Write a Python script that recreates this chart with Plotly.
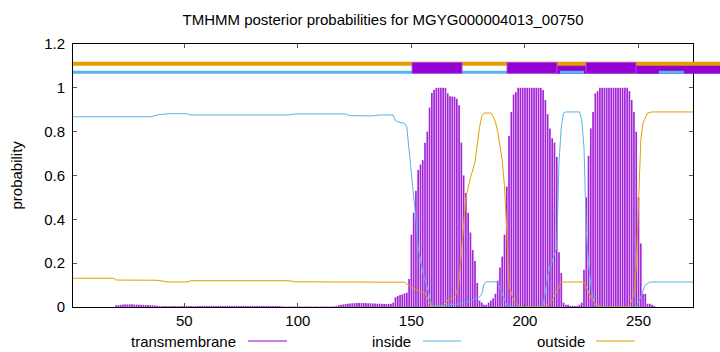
import plotly.graph_objects as go

# ---------------- data ----------------
L = 274
residues = list(range(1, L + 1))

tm_prob = (
    [0.0] * 19                                                       # 1-19
    + [0.008, 0.009, 0.010, 0.011, 0.012, 0.012, 0.012, 0.012, 0.011, 0.011,
       0.010, 0.010, 0.010, 0.009, 0.009, 0.008, 0.008, 0.007, 0.006]  # 20-38
    + [0.004] * 18                                                   # 39-56
    + [0.005] * 36                                                   # 57-92
    + [0.002] * 24                                                   # 93-116
    + [0.005, 0.008, 0.010, 0.012]                                   # 117-120
    + [0.014, 0.015, 0.016, 0.017, 0.017, 0.018, 0.018, 0.018, 0.018, 0.018,
       0.017, 0.017, 0.016, 0.016, 0.015, 0.015, 0.015, 0.014, 0.014, 0.014,
       0.015]                                                        # 121-141
    + [0.02, 0.045, 0.05, 0.055, 0.058, 0.062, 0.065, 0.128]         # 142-149
    + [0.33, 0.43, 0.53, 0.625, 0.65, 0.67, 0.75, 0.80, 0.91, 0.977, 0.99]  # 150-160
    + [1.0] * 5                                                      # 161-165
    + [0.975, 0.962, 0.96, 0.958, 0.95, 0.92, 0.75, 0.60, 0.52, 0.43,
       0.34, 0.26, 0.21, 0.11, 0.03, 0.02, 0.01, 0.01, 0.02, 0.03,
       0.04, 0.06, 0.12, 0.18, 0.23, 0.33, 0.55, 0.78, 0.89, 0.97, 0.98]  # 166-196
    + [1.0] * 11                                                     # 197-207
    + [0.99, 0.945, 0.88, 0.815, 0.77, 0.75, 0.685, 0.25, 0.155, 0.02,
       0.01, 0.01, 0.005, 0.005, 0.005, 0.005, 0.01, 0.02, 0.17, 0.5,
       0.69, 0.815, 0.89, 0.975, 0.985]                              # 208-232
    + [1.0] * 13                                                     # 233-245
    + [0.985, 0.945, 0.89, 0.80, 0.5, 0.29, 0.06, 0.06, 0.015, 0.015, 0.01, 0.005]  # 246-257
    + [0.0] * 17                                                     # 258-274
)
assert len(tm_prob) == L

inside_x = [1, 35, 39, 43, 51, 53, 96, 99, 121, 123, 133, 136, 142, 143, 145, 147,
            148, 150, 152, 153, 155, 157, 159, 165, 172, 176, 180, 181, 182, 183,
            187, 188, 189, 190, 191, 192, 195, 205, 208, 210, 211, 214, 215, 216,
            217, 218, 224, 225, 226, 227, 228, 229, 230, 231, 232, 249, 250, 251,
            253, 255, 274]
inside_y = [0.868, 0.868, 0.878, 0.882, 0.882, 0.876, 0.876, 0.881, 0.881, 0.873,
            0.872, 0.876, 0.876, 0.85, 0.842, 0.838, 0.82, 0.62, 0.40, 0.27, 0.16,
            0.09, 0.005, 0.008, 0.015, 0.03, 0.045, 0.06, 0.105, 0.115, 0.115, 0.11,
            0.09, 0.06, 0.03, 0.01, 0.0, 0.0, 0.005, 0.14, 0.18, 0.27, 0.66, 0.82,
            0.885, 0.89, 0.89, 0.855, 0.73, 0.35, 0.2, 0.1, 0.04, 0.01, 0.0, 0.0,
            0.02, 0.05, 0.10, 0.114, 0.114]

outside_x = [1, 19, 20, 38, 43, 51, 53, 96, 99, 121, 123, 147, 148, 150, 156, 158,
             159, 164, 166, 169, 170, 171, 172, 174, 176, 178, 179, 180, 181, 182,
             185, 186, 187, 188, 190, 191, 192, 193, 195, 198, 209, 212, 214, 215,
             216, 226, 227, 229, 231, 234, 246, 248, 249, 250, 251, 252, 254, 256, 274]
outside_y = [0.131, 0.131, 0.123, 0.122, 0.114, 0.114, 0.12, 0.12, 0.115, 0.115,
             0.113, 0.113, 0.105, 0.09, 0.063, 0.02, 0.0, 0.0, 0.03, 0.045, 0.07,
             0.12, 0.25, 0.5, 0.59, 0.66, 0.74, 0.82, 0.87, 0.885, 0.885, 0.87,
             0.845, 0.80, 0.67, 0.55, 0.35, 0.10, 0.03, 0.0, 0.0, 0.03, 0.07, 0.09,
             0.114, 0.114, 0.09, 0.045, 0.015, 0.0, 0.0, 0.06, 0.18, 0.5, 0.76,
             0.84, 0.885, 0.89, 0.89]

# topology bars above the plot (residue ranges)
outside_bar = [(1, 286)]
inside_bar = [(1, 270)]
tm_band = [(214, 286)]
inside_over = [(215.4, 226), (259, 270)]
tm_boxes = [(150.3, 172.3), (192.1, 214.1), (226.9, 248.9)]

legend_names = ["transmembrane", "inside", "outside"]
title_text = "TMHMM posterior probabilities for MGYG000004013_00750"

# ---------------- styling ----------------
PURPLE = "#9400d3"
BLUE = "#56b4e9"
ORANGE = "#e69f00"
FONT = "Liberation Sans, Arial, sans-serif"
W, H = 720, 352
ML, MR, MT, MB = 73, 27, 44, 45
XR = (1, L)
YR = (0, 1.2)


def xp(r):
    return (r - XR[0]) / (XR[1] - XR[0])


def yp(v):
    return (v - YR[0]) / (YR[1] - YR[0])


def px2paper_x(px):
    return (px - ML) / (W - ML - MR)


def px2paper_y(py):
    return (H - MB - py) / (H - MT - MB)


fig = go.Figure()

# transmembrane impulses
ix, iy = [], []
for r, v in zip(residues, tm_prob):
    ix += [r, r, None]
    iy += [0, v, None]
fig.add_trace(go.Scatter(x=ix, y=iy, mode="lines", line=dict(color=PURPLE, width=1.7),
                         opacity=0.85, showlegend=False, hoverinfo="skip"))
fig.add_trace(go.Scatter(x=inside_x, y=inside_y, mode="lines",
                         line=dict(color=BLUE, width=1), showlegend=False))
fig.add_trace(go.Scatter(x=outside_x, y=outside_y, mode="lines",
                         line=dict(color=ORANGE, width=1), showlegend=False))

shapes = []
for a, b in inside_bar:
    shapes.append(dict(type="rect", xref="paper", yref="paper", x0=xp(a), x1=xp(b),
                       y0=yp(1.064), y1=yp(1.078), fillcolor=BLUE, line=dict(width=0)))
for a, b in tm_band:
    shapes.append(dict(type="rect", xref="paper", yref="paper", x0=xp(a), x1=xp(b),
                       y0=yp(1.064), y1=yp(1.118), fillcolor=PURPLE, line=dict(width=0)))
for a, b in inside_over:
    shapes.append(dict(type="rect", xref="paper", yref="paper", x0=xp(a), x1=xp(b),
                       y0=yp(1.064), y1=yp(1.078), fillcolor=BLUE, line=dict(width=0)))
for a, b in outside_bar:
    shapes.append(dict(type="rect", xref="paper", yref="paper", x0=xp(a), x1=xp(b),
                       y0=yp(1.101), y1=yp(1.119), fillcolor=ORANGE, line=dict(width=0)))
for a, b in tm_boxes:
    shapes.append(dict(type="rect", xref="paper", yref="paper", x0=xp(a), x1=xp(b),
                       y0=yp(1.066), y1=yp(1.116), fillcolor=PURPLE,
                       line=dict(width=1, color="#b04ce0")))

annotations = []
legend_text_right = [238, 413, 587]
legend_line = [(248, 287), (423, 461), (596, 635)]
legend_colors = [PURPLE, BLUE, ORANGE]
ly = px2paper_y(341)
for name, tr, (l0, l1), c in zip(legend_names, legend_text_right, legend_line, legend_colors):
    annotations.append(dict(text=name, x=px2paper_x(tr), y=ly, xref="paper", yref="paper",
                            xanchor="right", yanchor="middle", showarrow=False,
                            font=dict(size=15, color="black", family=FONT)))
    shapes.append(dict(type="line", xref="paper", yref="paper", x0=px2paper_x(l0),
                       x1=px2paper_x(l1), y0=ly, y1=ly, line=dict(color=c, width=1)))

annotations.append(dict(text="probability", x=px2paper_x(16), y=0.5, xref="paper", yref="paper",
                        textangle=-90, xanchor="center", yanchor="middle", showarrow=False,
                        font=dict(size=15, color="black", family=FONT)))

fig.update_layout(
    width=W, height=H,
    margin=dict(l=ML, r=MR, t=MT, b=MB),
    paper_bgcolor="white", plot_bgcolor="white",
    font=dict(family=FONT, size=15, color="black"),
    title=dict(text=title_text, x=px2paper_x(383), xref="paper", xanchor="center",
               y=1 - 20 / H, yanchor="middle", font=dict(size=15)),
    shapes=shapes, annotations=annotations,
    showlegend=False, hovermode=False,
)
fig.update_xaxes(range=list(XR), tickvals=[50, 100, 150, 200, 250],
                 showgrid=False, zeroline=False, showline=True, linecolor="black",
                 linewidth=1, mirror="ticks", ticks="inside", ticklen=4,
                 tickcolor="#555", tickfont=dict(size=15))
fig.update_yaxes(range=list(YR), tickvals=[0, 0.2, 0.4, 0.6, 0.8, 1, 1.2],
                 ticktext=["0", "0.2", "0.4", "0.6", "0.8", "1", "1.2"],
                 showgrid=False, zeroline=False, showline=True, linecolor="black",
                 linewidth=1, mirror="ticks", ticks="inside", ticklen=4,
                 tickcolor="#555", tickfont=dict(size=15), ticklabelstandoff=4)

fig.write_html("out.html")
